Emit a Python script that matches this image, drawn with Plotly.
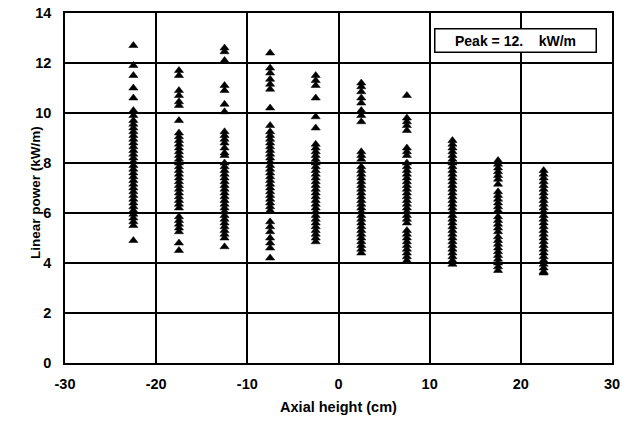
import plotly.graph_objects as go

# Axial node positions (cm) and linear power readings (kW/m) at each node
axial_positions = [-22.5, -17.5, -12.5, -7.5, -2.5, 2.5, 7.5, 12.5, 17.5, 22.5]

power_m225 = [12.7, 11.9, 11.5, 11.0, 10.6, 10.1, 9.9, 9.7, 9.55, 9.4, 9.25, 9.1,
              8.95, 8.8, 8.65, 8.5, 8.35, 8.2, 8.05, 7.9, 7.75, 7.6, 7.45, 7.3,
              7.15, 7.0, 6.85, 6.7, 6.55, 6.4, 6.25, 6.1, 5.95, 5.8, 5.65, 5.5, 4.9]
power_m175 = [11.7, 11.5, 10.9, 10.7, 10.45, 10.3, 9.7, 9.2, 9.05, 8.9, 8.75, 8.6,
              8.45, 8.3, 8.15, 8.0, 7.85, 7.7, 7.55, 7.4, 7.25, 7.1, 6.95, 6.8,
              6.65, 6.5, 6.35, 6.2, 5.85, 5.7, 5.55, 5.4, 5.25, 4.8, 4.5]
power_m125 = [12.6, 12.45, 12.1, 11.1, 10.9, 10.35, 10.05, 9.25, 9.1, 8.95, 8.8,
              8.6, 8.4, 8.3, 8.0, 7.85, 7.7, 7.55, 7.4, 7.25, 7.1, 6.95, 6.8, 6.65,
              6.5, 6.35, 6.2, 6.05, 5.9, 5.75, 5.6, 5.45, 5.3, 5.15, 5.0, 4.65]
power_m75 = [12.4, 11.8, 11.6, 11.35, 11.15, 10.95, 10.2, 9.5, 9.25, 9.1, 8.95,
             8.8, 8.65, 8.5, 8.35, 8.2, 8.05, 7.9, 7.75, 7.6, 7.45, 7.3, 7.15, 7.0,
             6.85, 6.7, 6.55, 6.4, 6.25, 6.1, 5.65, 5.45, 5.25, 5.0, 4.8, 4.6, 4.2]
power_m25 = [11.5, 11.3, 11.1, 10.6, 9.85, 9.4, 8.75, 8.6, 8.45, 8.3, 8.15, 8.0,
             7.85, 7.7, 7.55, 7.4, 7.25, 7.1, 6.95, 6.8, 6.65, 6.5, 6.35, 6.2,
             6.05, 5.9, 5.75, 5.6, 5.45, 5.3, 5.15, 5.0, 4.85]
power_p25 = [11.2, 11.05, 10.85, 10.6, 10.4, 10.1, 9.9, 9.65, 8.45, 8.3, 8.15,
             7.85, 7.7, 7.55, 7.4, 7.25, 7.1, 6.95, 6.8, 6.65, 6.5, 6.35, 6.2,
             6.05, 5.9, 5.75, 5.6, 5.45, 5.3, 5.15, 5.0, 4.85, 4.7, 4.55, 4.4]
power_p75 = [10.7, 9.8, 9.65, 9.5, 9.3, 8.6, 8.45, 8.3, 8.0, 7.85, 7.7, 7.55,
             7.4, 7.25, 7.1, 6.95, 6.8, 6.65, 6.5, 6.35, 6.2, 6.05, 5.9, 5.75,
             5.6, 5.3, 5.15, 5.0, 4.85, 4.7, 4.55, 4.4, 4.25, 4.1]
power_p125 = [8.9, 8.75, 8.6, 8.45, 8.3, 8.15, 8.0, 7.85, 7.7, 7.55, 7.4, 7.25,
              7.1, 6.95, 6.8, 6.65, 6.5, 6.35, 6.2, 6.05, 5.9, 5.75, 5.6, 5.45,
              5.3, 5.15, 5.0, 4.85, 4.7, 4.55, 4.4, 4.25, 4.1, 3.95]
power_p175 = [8.1, 7.95, 7.8, 7.65, 7.5, 7.35, 7.15, 6.85, 6.7, 6.55, 6.4, 6.25,
              6.1, 5.85, 5.7, 5.55, 5.4, 5.25, 5.05, 4.9, 4.75, 4.6, 4.45, 4.3,
              4.15, 4.0, 3.85, 3.7]
power_p225 = [7.7, 7.55, 7.4, 7.25, 7.1, 6.95, 6.8, 6.65, 6.5, 6.35, 6.2, 6.05,
              5.9, 5.75, 5.6, 5.45, 5.3, 5.15, 5.0, 4.85, 4.7, 4.55, 4.4, 4.25,
              4.1, 3.95, 3.8, 3.65, 3.6]

power_by_node = [power_m225, power_m175, power_m125, power_m75, power_m25,
                 power_p25, power_p75, power_p125, power_p175, power_p225]

x_ticks = [-30, -20, -10, 0, 10, 20, 30]
y_ticks = [0, 2, 4, 6, 8, 10, 12, 14]
peak_label = "Peak = 12.\u00a0\u00a0\u00a0\u00a0kW/m"
x_title = "Axial height (cm)"
y_title = "Linear power (kW/m)"

xs, ys = [], []
for pos, vals in zip(axial_positions, power_by_node):
    xs.extend([pos] * len(vals))
    ys.extend(vals)

fig = go.Figure()
fig.add_trace(go.Scatter(
    x=xs, y=ys, mode="markers",
    marker=dict(symbol="triangle-up", size=8, color="black",
                line=dict(width=0.5, color="black")),
    showlegend=False, cliponaxis=False,
))

font_family = "Liberation Sans, Arial, sans-serif"

# Peak value box in the upper-right corner
fig.add_annotation(
    x=19.36, y=12.92, xref="x", yref="y",
    text="<b>" + peak_label + "</b>",
    showarrow=False, width=156, height=18, align="center",
    font=dict(family=font_family, size=14, color="black"),
    bordercolor="black", borderwidth=1.5, borderpad=2,
    bgcolor="white",
)

# Vertical axis title, placed as rotated text beside the tick labels
fig.add_annotation(
    x=-0.055, y=0.488, xref="paper", yref="paper",
    text="<b>" + y_title + "</b>", textangle=-90,
    showarrow=False, xanchor="center", yanchor="middle",
    font=dict(family=font_family, size=13.5, color="black"),
)

fig.update_xaxes(
    range=[-30, 30], tickvals=x_ticks, ticktext=[str(v) for v in x_ticks],
    showgrid=True, gridcolor="black", gridwidth=1.5,
    zeroline=False, showline=True, linecolor="black", linewidth=1.6,
    mirror=True, ticks="", ticklen=0, automargin=False, ticklabelstandoff=7,
    tickfont=dict(family=font_family, size=14.5, color="black", weight="bold"),
    title=dict(text=x_title, standoff=11,
               font=dict(family=font_family, size=14.5, color="black", weight="bold")),
)
fig.update_yaxes(
    range=[0, 14], tickvals=y_ticks, ticktext=[str(v) for v in y_ticks],
    showgrid=True, gridcolor="black", gridwidth=1.5,
    zeroline=False, showline=True, linecolor="black", linewidth=1.6,
    mirror=True, ticks="", ticklen=0, automargin=False, ticklabelstandoff=9,
    tickfont=dict(family=font_family, size=14.5, color="black", weight="bold"),
)

fig.update_layout(
    width=623, height=427,
    margin=dict(l=65, r=11, t=13, b=64),
    paper_bgcolor="white", plot_bgcolor="white",
)

fig.write_html("out.html")
